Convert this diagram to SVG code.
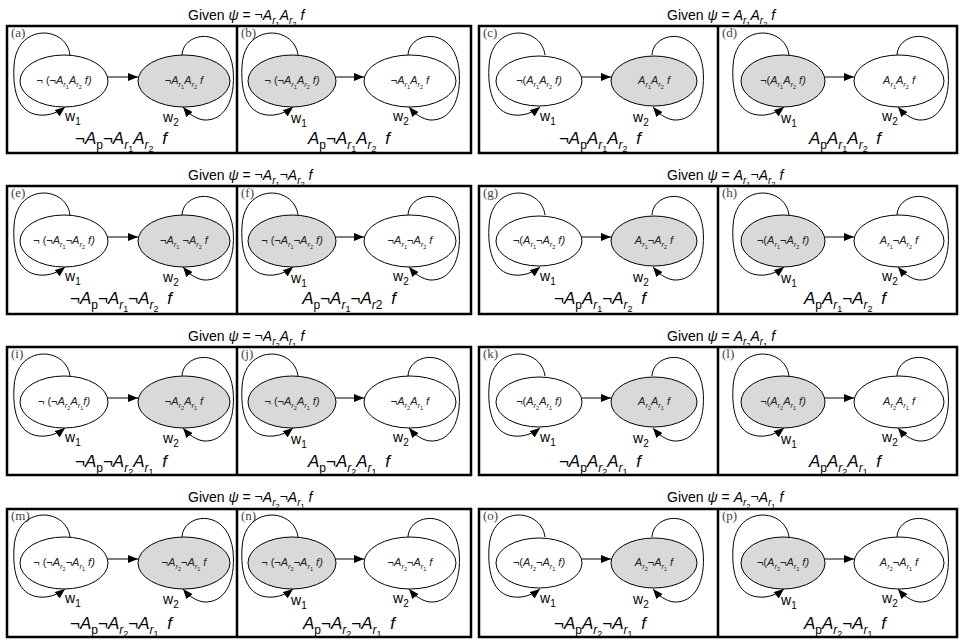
<svg xmlns="http://www.w3.org/2000/svg" width="961" height="642" viewBox="0 0 961 642">
<style>
.bg{fill:#fff}
.box{fill:none;stroke:#000;stroke-width:2.5}
.wh{fill:#fff;stroke:#000;stroke-width:1}
.gr{fill:#d9d9d9;stroke:#000;stroke-width:1}
.lk{fill:none;stroke:#000;stroke-width:1;marker-end:url(#ah)}
.tt{font:14px "Liberation Sans",Arial,sans-serif;fill:#000}
.bl{font:17px "Liberation Sans",Arial,sans-serif;fill:#000;text-anchor:middle}
.el{font:11px "Liberation Sans",Arial,sans-serif;fill:#222;text-anchor:middle}
.w{font:14px "Liberation Sans",Arial,sans-serif;fill:#000}
.pl{font:13px "Liberation Serif","DejaVu Serif",serif;fill:#444}
.i{font-style:italic}
.tt .s1{font-size:10px}.tt .s2{font-size:7.5px}
.bl .s1{font-size:12px}.bl .s2{font-size:9px}
.el .s1{font-size:7.5px}.el .s2{font-size:5.5px}
.w .s1{font-size:10px}
</style>
<defs>
<marker id="ah" viewBox="0 0 10 8" refX="10" refY="4" markerWidth="10" markerHeight="8" markerUnits="userSpaceOnUse" orient="auto"><path d="M0,0 L10,4 L0,8 z" fill="#000"/></marker>
</defs>
<rect class="bg" width="961" height="642"/>

<!-- titles -->
<g id="titles">
<text class="tt" x="188" y="20">Given <tspan class="i">ψ</tspan> = ¬<tspan class="i">A</tspan><tspan class="i s1" dy="4">r</tspan><tspan class="s2" dy="2.5">1</tspan><tspan class="i" dy="-6.5">A</tspan><tspan class="i s1" dy="4">r</tspan><tspan class="s2" dy="2.5">2</tspan><tspan class="i" dy="-6.5"> f</tspan></text>
<text class="tt" x="667" y="20">Given <tspan class="i">ψ</tspan> = <tspan class="i">A</tspan><tspan class="i s1" dy="4">r</tspan><tspan class="s2" dy="2.5">1</tspan><tspan class="i" dy="-6.5">A</tspan><tspan class="i s1" dy="4">r</tspan><tspan class="s2" dy="2.5">2</tspan><tspan class="i" dy="-6.5"> f</tspan></text>
<text class="tt" x="188" y="180">Given <tspan class="i">ψ</tspan> = ¬<tspan class="i">A</tspan><tspan class="i s1" dy="4">r</tspan><tspan class="s2" dy="2.5">1</tspan><tspan dy="-6.5">¬</tspan><tspan class="i">A</tspan><tspan class="i s1" dy="4">r</tspan><tspan class="s2" dy="2.5">2</tspan><tspan class="i" dy="-6.5"> f</tspan></text>
<text class="tt" x="667" y="180">Given <tspan class="i">ψ</tspan> = <tspan class="i">A</tspan><tspan class="i s1" dy="4">r</tspan><tspan class="s2" dy="2.5">1</tspan><tspan dy="-6.5">¬</tspan><tspan class="i">A</tspan><tspan class="i s1" dy="4">r</tspan><tspan class="s2" dy="2.5">2</tspan><tspan class="i" dy="-6.5"> f</tspan></text>
<text class="tt" x="188" y="341">Given <tspan class="i">ψ</tspan> = ¬<tspan class="i">A</tspan><tspan class="i s1" dy="4">r</tspan><tspan class="s2" dy="2.5">2</tspan><tspan class="i" dy="-6.5">A</tspan><tspan class="i s1" dy="4">r</tspan><tspan class="s2" dy="2.5">1</tspan><tspan class="i" dy="-6.5"> f</tspan></text>
<text class="tt" x="667" y="341">Given <tspan class="i">ψ</tspan> = <tspan class="i">A</tspan><tspan class="i s1" dy="4">r</tspan><tspan class="s2" dy="2.5">2</tspan><tspan class="i" dy="-6.5">A</tspan><tspan class="i s1" dy="4">r</tspan><tspan class="s2" dy="2.5">1</tspan><tspan class="i" dy="-6.5"> f</tspan></text>
<text class="tt" x="188" y="502">Given <tspan class="i">ψ</tspan> = ¬<tspan class="i">A</tspan><tspan class="i s1" dy="4">r</tspan><tspan class="s2" dy="2.5">2</tspan><tspan dy="-6.5">¬</tspan><tspan class="i">A</tspan><tspan class="i s1" dy="4">r</tspan><tspan class="s2" dy="2.5">1</tspan><tspan class="i" dy="-6.5"> f</tspan></text>
<text class="tt" x="667" y="502">Given <tspan class="i">ψ</tspan> = <tspan class="i">A</tspan><tspan class="i s1" dy="4">r</tspan><tspan class="s2" dy="2.5">2</tspan><tspan dy="-6.5">¬</tspan><tspan class="i">A</tspan><tspan class="i s1" dy="4">r</tspan><tspan class="s2" dy="2.5">1</tspan><tspan class="i" dy="-6.5"> f</tspan></text>
</g>

<!-- frames: one box per title, split into two panels -->
<g id="frames">
<rect class="box" x="7" y="26" width="464" height="127"/><line class="box" x1="237" y1="26" x2="237" y2="153"/>
<rect class="box" x="479" y="26" width="478" height="127"/><line class="box" x1="718" y1="26" x2="718" y2="153"/>
<rect class="box" x="7" y="186" width="464" height="128"/><line class="box" x1="237" y1="186" x2="237" y2="314"/>
<rect class="box" x="479" y="186" width="478" height="128"/><line class="box" x1="718" y1="186" x2="718" y2="314"/>
<rect class="box" x="7" y="347" width="464" height="128"/><line class="box" x1="237" y1="347" x2="237" y2="475"/>
<rect class="box" x="479" y="347" width="478" height="128"/><line class="box" x1="718" y1="347" x2="718" y2="475"/>
<rect class="box" x="7" y="509" width="464" height="128"/><line class="box" x1="237" y1="509" x2="237" y2="637"/>
<rect class="box" x="479" y="509" width="478" height="128"/><line class="box" x1="718" y1="509" x2="718" y2="637"/>
</g>

<!-- panel letters -->
<g id="panel-letters" class="pl">
<text x="11" y="37">(a)</text><text x="241" y="37">(b)</text><text x="483" y="37">(c)</text><text x="722" y="37">(d)</text>
<text x="11" y="197">(e)</text><text x="241" y="197">(f)</text><text x="483" y="197">(g)</text><text x="722" y="197">(h)</text>
<text x="11" y="358">(i)</text><text x="241" y="358">(j)</text><text x="483" y="358">(k)</text><text x="722" y="358">(l)</text>
<text x="11" y="520">(m)</text><text x="241" y="520">(n)</text><text x="483" y="520">(o)</text><text x="722" y="520">(p)</text>
</g>

<!-- connectors: transition edge plus two self-loops per panel -->
<g id="connectors">
<g id="links-a"><path class="lk" d="M108,77H138"/><path class="lk" transform="translate(64,81)" d="M6,-26 C2,-56 -48,-58 -50,-15 C-52,20 -40,36 -18,34 C-10,33 -4,30 1,26"/><path class="lk" transform="translate(184,81)" d="M-2,-26 C-1,-50 44,-56 49,-12 C52,20 40,40 20,39 C12,38 5,33 -1,26"/></g>
<g id="links-b"><path class="lk" d="M336,77H364"/><path class="lk" transform="translate(292,81)" d="M6,-26 C2,-56 -48,-58 -50,-15 C-52,20 -40,36 -18,34 C-10,33 -4,30 1,26"/><path class="lk" transform="translate(410,81)" d="M-2,-26 C-1,-50 44,-56 49,-12 C52,20 40,40 20,39 C12,38 5,33 -1,26"/></g>
<g id="links-c"><path class="lk" d="M582,77H611"/><path class="lk" transform="translate(539,81)" d="M6,-26 C2,-56 -48,-58 -50,-15 C-52,20 -40,36 -18,34 C-10,33 -4,30 1,26"/><path class="lk" transform="translate(654,81)" d="M-2,-26 C-1,-50 44,-56 49,-12 C52,20 40,40 20,39 C12,38 5,33 -1,26"/></g>
<g id="links-d"><path class="lk" d="M825,77H854"/><path class="lk" transform="translate(783,81)" d="M6,-26 C2,-56 -48,-58 -50,-15 C-52,20 -40,36 -18,34 C-10,33 -4,30 1,26"/><path class="lk" transform="translate(899,81)" d="M-2,-26 C-1,-50 44,-56 49,-12 C52,20 40,40 20,39 C12,38 5,33 -1,26"/></g>

<g id="links-e"><path class="lk" d="M108,237H138"/><path class="lk" transform="translate(64,241)" d="M6,-26 C2,-56 -48,-58 -50,-15 C-52,20 -40,36 -18,34 C-10,33 -4,30 1,26"/><path class="lk" transform="translate(184,241)" d="M-2,-26 C-1,-50 44,-56 49,-12 C52,20 40,40 20,39 C12,38 5,33 -1,26"/></g>
<g id="links-f"><path class="lk" d="M336,237H364"/><path class="lk" transform="translate(292,241)" d="M6,-26 C2,-56 -48,-58 -50,-15 C-52,20 -40,36 -18,34 C-10,33 -4,30 1,26"/><path class="lk" transform="translate(410,241)" d="M-2,-26 C-1,-50 44,-56 49,-12 C52,20 40,40 20,39 C12,38 5,33 -1,26"/></g>
<g id="links-g"><path class="lk" d="M582,237H611"/><path class="lk" transform="translate(539,241)" d="M6,-26 C2,-56 -48,-58 -50,-15 C-52,20 -40,36 -18,34 C-10,33 -4,30 1,26"/><path class="lk" transform="translate(654,241)" d="M-2,-26 C-1,-50 44,-56 49,-12 C52,20 40,40 20,39 C12,38 5,33 -1,26"/></g>
<g id="links-h"><path class="lk" d="M825,237H854"/><path class="lk" transform="translate(783,241)" d="M6,-26 C2,-56 -48,-58 -50,-15 C-52,20 -40,36 -18,34 C-10,33 -4,30 1,26"/><path class="lk" transform="translate(899,241)" d="M-2,-26 C-1,-50 44,-56 49,-12 C52,20 40,40 20,39 C12,38 5,33 -1,26"/></g>

<g id="links-i"><path class="lk" d="M108,398H138"/><path class="lk" transform="translate(64,402)" d="M6,-26 C2,-56 -48,-58 -50,-15 C-52,20 -40,36 -18,34 C-10,33 -4,30 1,26"/><path class="lk" transform="translate(184,402)" d="M-2,-26 C-1,-50 44,-56 49,-12 C52,20 40,40 20,39 C12,38 5,33 -1,26"/></g>
<g id="links-j"><path class="lk" d="M336,398H364"/><path class="lk" transform="translate(292,402)" d="M6,-26 C2,-56 -48,-58 -50,-15 C-52,20 -40,36 -18,34 C-10,33 -4,30 1,26"/><path class="lk" transform="translate(410,402)" d="M-2,-26 C-1,-50 44,-56 49,-12 C52,20 40,40 20,39 C12,38 5,33 -1,26"/></g>
<g id="links-k"><path class="lk" d="M582,398H611"/><path class="lk" transform="translate(539,402)" d="M6,-26 C2,-56 -48,-58 -50,-15 C-52,20 -40,36 -18,34 C-10,33 -4,30 1,26"/><path class="lk" transform="translate(654,402)" d="M-2,-26 C-1,-50 44,-56 49,-12 C52,20 40,40 20,39 C12,38 5,33 -1,26"/></g>
<g id="links-l"><path class="lk" d="M825,398H854"/><path class="lk" transform="translate(783,402)" d="M6,-26 C2,-56 -48,-58 -50,-15 C-52,20 -40,36 -18,34 C-10,33 -4,30 1,26"/><path class="lk" transform="translate(899,402)" d="M-2,-26 C-1,-50 44,-56 49,-12 C52,20 40,40 20,39 C12,38 5,33 -1,26"/></g>

<g id="links-m"><path class="lk" d="M108,559H138"/><path class="lk" transform="translate(64,563)" d="M6,-26 C2,-56 -48,-58 -50,-15 C-52,20 -40,36 -18,34 C-10,33 -4,30 1,26"/><path class="lk" transform="translate(184,563)" d="M-2,-26 C-1,-50 44,-56 49,-12 C52,20 40,40 20,39 C12,38 5,33 -1,26"/></g>
<g id="links-n"><path class="lk" d="M336,559H364"/><path class="lk" transform="translate(292,563)" d="M6,-26 C2,-56 -48,-58 -50,-15 C-52,20 -40,36 -18,34 C-10,33 -4,30 1,26"/><path class="lk" transform="translate(410,563)" d="M-2,-26 C-1,-50 44,-56 49,-12 C52,20 40,40 20,39 C12,38 5,33 -1,26"/></g>
<g id="links-o"><path class="lk" d="M582,559H611"/><path class="lk" transform="translate(539,563)" d="M6,-26 C2,-56 -48,-58 -50,-15 C-52,20 -40,36 -18,34 C-10,33 -4,30 1,26"/><path class="lk" transform="translate(654,563)" d="M-2,-26 C-1,-50 44,-56 49,-12 C52,20 40,40 20,39 C12,38 5,33 -1,26"/></g>
<g id="links-p"><path class="lk" d="M825,559H854"/><path class="lk" transform="translate(783,563)" d="M6,-26 C2,-56 -48,-58 -50,-15 C-52,20 -40,36 -18,34 C-10,33 -4,30 1,26"/><path class="lk" transform="translate(899,563)" d="M-2,-26 C-1,-50 44,-56 49,-12 C52,20 40,40 20,39 C12,38 5,33 -1,26"/></g>
</g>

<!-- loop labels -->
<g id="loop-labels" class="w">
<text x="65" y="121">w<tspan class="s1" dy="4">1</tspan></text><text x="163" y="122">w<tspan class="s1" dy="4">2</tspan></text>
<text x="291" y="123">w<tspan class="s1" dy="4">1</tspan></text><text x="393" y="121">w<tspan class="s1" dy="4">2</tspan></text>
<text x="540" y="121">w<tspan class="s1" dy="4">1</tspan></text><text x="633" y="122">w<tspan class="s1" dy="4">2</tspan></text>
<text x="781" y="123">w<tspan class="s1" dy="4">1</tspan></text><text x="882" y="121">w<tspan class="s1" dy="4">2</tspan></text>

<text x="65" y="281">w<tspan class="s1" dy="4">1</tspan></text><text x="163" y="282">w<tspan class="s1" dy="4">2</tspan></text>
<text x="291" y="283">w<tspan class="s1" dy="4">1</tspan></text><text x="393" y="281">w<tspan class="s1" dy="4">2</tspan></text>
<text x="540" y="281">w<tspan class="s1" dy="4">1</tspan></text><text x="633" y="282">w<tspan class="s1" dy="4">2</tspan></text>
<text x="781" y="283">w<tspan class="s1" dy="4">1</tspan></text><text x="882" y="281">w<tspan class="s1" dy="4">2</tspan></text>

<text x="65" y="442">w<tspan class="s1" dy="4">1</tspan></text><text x="163" y="443">w<tspan class="s1" dy="4">2</tspan></text>
<text x="291" y="444">w<tspan class="s1" dy="4">1</tspan></text><text x="393" y="442">w<tspan class="s1" dy="4">2</tspan></text>
<text x="540" y="442">w<tspan class="s1" dy="4">1</tspan></text><text x="633" y="443">w<tspan class="s1" dy="4">2</tspan></text>
<text x="781" y="444">w<tspan class="s1" dy="4">1</tspan></text><text x="882" y="442">w<tspan class="s1" dy="4">2</tspan></text>

<text x="65" y="603">w<tspan class="s1" dy="4">1</tspan></text><text x="163" y="604">w<tspan class="s1" dy="4">2</tspan></text>
<text x="291" y="605">w<tspan class="s1" dy="4">1</tspan></text><text x="393" y="603">w<tspan class="s1" dy="4">2</tspan></text>
<text x="540" y="603">w<tspan class="s1" dy="4">1</tspan></text><text x="633" y="604">w<tspan class="s1" dy="4">2</tspan></text>
<text x="781" y="605">w<tspan class="s1" dy="4">1</tspan></text><text x="882" y="603">w<tspan class="s1" dy="4">2</tspan></text>
</g>

<!-- nodes: row 1 -->
<g id="a-n1"><ellipse class="wh" cx="64" cy="81" rx="44" ry="26"/><text class="el" x="64" y="84">¬ (¬<tspan class="i">A</tspan><tspan class="i s1" dy="3">r</tspan><tspan class="s2" dy="2">1</tspan><tspan class="i" dy="-5">A</tspan><tspan class="i s1" dy="3">r</tspan><tspan class="s2" dy="2">2</tspan><tspan class="i" dy="-5"> f)</tspan></text></g>
<g id="a-n2"><ellipse class="gr" cx="184" cy="81" rx="46" ry="26"/><text class="el" x="184" y="84">¬<tspan class="i">A</tspan><tspan class="i s1" dy="3">r</tspan><tspan class="s2" dy="2">1</tspan><tspan class="i" dy="-5">A</tspan><tspan class="i s1" dy="3">r</tspan><tspan class="s2" dy="2">2</tspan><tspan class="i" dy="-5"> f</tspan></text></g>
<g id="b-n1"><ellipse class="gr" cx="292" cy="81" rx="44" ry="26"/><text class="el" x="292" y="84">¬ (¬<tspan class="i">A</tspan><tspan class="i s1" dy="3">r</tspan><tspan class="s2" dy="2">1</tspan><tspan class="i" dy="-5">A</tspan><tspan class="i s1" dy="3">r</tspan><tspan class="s2" dy="2">2</tspan><tspan class="i" dy="-5"> f)</tspan></text></g>
<g id="b-n2"><ellipse class="wh" cx="410" cy="81" rx="46" ry="26"/><text class="el" x="410" y="84">¬<tspan class="i">A</tspan><tspan class="i s1" dy="3">r</tspan><tspan class="s2" dy="2">1</tspan><tspan class="i" dy="-5">A</tspan><tspan class="i s1" dy="3">r</tspan><tspan class="s2" dy="2">2</tspan><tspan class="i" dy="-5"> f</tspan></text></g>
<g id="c-n1"><ellipse class="wh" cx="539" cy="81" rx="43" ry="25"/><text class="el" x="539" y="84">¬(<tspan class="i">A</tspan><tspan class="i s1" dy="3">r</tspan><tspan class="s2" dy="2">1</tspan><tspan class="i" dy="-5">A</tspan><tspan class="i s1" dy="3">r</tspan><tspan class="s2" dy="2">2</tspan><tspan class="i" dy="-5"> f)</tspan></text></g>
<g id="c-n2"><ellipse class="gr" cx="654" cy="81" rx="43" ry="25"/><text class="el" x="654" y="84"><tspan class="i">A</tspan><tspan class="i s1" dy="3">r</tspan><tspan class="s2" dy="2">1</tspan><tspan class="i" dy="-5">A</tspan><tspan class="i s1" dy="3">r</tspan><tspan class="s2" dy="2">2</tspan><tspan class="i" dy="-5"> f</tspan></text></g>
<g id="d-n1"><ellipse class="gr" cx="783" cy="81" rx="42" ry="26"/><text class="el" x="783" y="84">¬(<tspan class="i">A</tspan><tspan class="i s1" dy="3">r</tspan><tspan class="s2" dy="2">1</tspan><tspan class="i" dy="-5">A</tspan><tspan class="i s1" dy="3">r</tspan><tspan class="s2" dy="2">2</tspan><tspan class="i" dy="-5"> f)</tspan></text></g>
<g id="d-n2"><ellipse class="wh" cx="899" cy="81" rx="45" ry="26"/><text class="el" x="899" y="84"><tspan class="i">A</tspan><tspan class="i s1" dy="3">r</tspan><tspan class="s2" dy="2">1</tspan><tspan class="i" dy="-5">A</tspan><tspan class="i s1" dy="3">r</tspan><tspan class="s2" dy="2">2</tspan><tspan class="i" dy="-5"> f</tspan></text></g>

<!-- nodes: row 2 -->
<g id="e-n1"><ellipse class="wh" cx="64" cy="241" rx="44" ry="26"/><text class="el" x="64" y="244">¬ (¬<tspan class="i">A</tspan><tspan class="i s1" dy="3">r</tspan><tspan class="s2" dy="2">1</tspan><tspan dy="-5">¬</tspan><tspan class="i">A</tspan><tspan class="i s1" dy="3">r</tspan><tspan class="s2" dy="2">2</tspan><tspan class="i" dy="-5"> f)</tspan></text></g>
<g id="e-n2"><ellipse class="gr" cx="184" cy="241" rx="46" ry="26"/><text class="el" x="184" y="244">¬<tspan class="i">A</tspan><tspan class="i s1" dy="3">r</tspan><tspan class="s2" dy="2">1</tspan><tspan dy="-5"> ¬</tspan><tspan class="i">A</tspan><tspan class="i s1" dy="3">r</tspan><tspan class="s2" dy="2">2</tspan><tspan class="i" dy="-5"> f</tspan></text></g>
<g id="f-n1"><ellipse class="gr" cx="292" cy="241" rx="44" ry="26"/><text class="el" x="292" y="244">¬ (¬<tspan class="i">A</tspan><tspan class="i s1" dy="3">r</tspan><tspan class="s2" dy="2">1</tspan><tspan dy="-5">¬</tspan><tspan class="i">A</tspan><tspan class="i s1" dy="3">r</tspan><tspan class="s2" dy="2">2</tspan><tspan class="i" dy="-5"> f)</tspan></text></g>
<g id="f-n2"><ellipse class="wh" cx="410" cy="241" rx="46" ry="26"/><text class="el" x="410" y="244">¬<tspan class="i">A</tspan><tspan class="i s1" dy="3">r</tspan><tspan class="s2" dy="2">1</tspan><tspan dy="-5">¬</tspan><tspan class="i">A</tspan><tspan class="i s1" dy="3">r</tspan><tspan class="s2" dy="2">2</tspan><tspan class="i" dy="-5"> f</tspan></text></g>
<g id="g-n1"><ellipse class="wh" cx="539" cy="241" rx="43" ry="25"/><text class="el" x="539" y="244">¬(<tspan class="i">A</tspan><tspan class="i s1" dy="3">r</tspan><tspan class="s2" dy="2">1</tspan><tspan dy="-5">¬</tspan><tspan class="i">A</tspan><tspan class="i s1" dy="3">r</tspan><tspan class="s2" dy="2">2</tspan><tspan class="i" dy="-5"> f)</tspan></text></g>
<g id="g-n2"><ellipse class="gr" cx="654" cy="241" rx="43" ry="25"/><text class="el" x="654" y="244"><tspan class="i">A</tspan><tspan class="i s1" dy="3">r</tspan><tspan class="s2" dy="2">1</tspan><tspan dy="-5">¬</tspan><tspan class="i">A</tspan><tspan class="i s1" dy="3">r</tspan><tspan class="s2" dy="2">2</tspan><tspan class="i" dy="-5"> f</tspan></text></g>
<g id="h-n1"><ellipse class="gr" cx="783" cy="241" rx="42" ry="26"/><text class="el" x="783" y="244">¬(<tspan class="i">A</tspan><tspan class="i s1" dy="3">r</tspan><tspan class="s2" dy="2">1</tspan><tspan dy="-5">¬</tspan><tspan class="i">A</tspan><tspan class="i s1" dy="3">r</tspan><tspan class="s2" dy="2">2</tspan><tspan class="i" dy="-5"> f)</tspan></text></g>
<g id="h-n2"><ellipse class="wh" cx="899" cy="241" rx="45" ry="26"/><text class="el" x="899" y="244"><tspan class="i">A</tspan><tspan class="i s1" dy="3">r</tspan><tspan class="s2" dy="2">1</tspan><tspan dy="-5">¬</tspan><tspan class="i">A</tspan><tspan class="i s1" dy="3">r</tspan><tspan class="s2" dy="2">2</tspan><tspan class="i" dy="-5"> f</tspan></text></g>

<!-- nodes: row 3 -->
<g id="i-n1"><ellipse class="wh" cx="64" cy="402" rx="44" ry="26"/><text class="el" x="64" y="405">¬ (¬<tspan class="i">A</tspan><tspan class="i s1" dy="3">r</tspan><tspan class="s2" dy="2">2</tspan><tspan class="i" dy="-5">A</tspan><tspan class="i s1" dy="3">r</tspan><tspan class="s2" dy="2">1</tspan><tspan class="i" dy="-5">f)</tspan></text></g>
<g id="i-n2"><ellipse class="gr" cx="184" cy="402" rx="46" ry="26"/><text class="el" x="184" y="405">¬<tspan class="i">A</tspan><tspan class="i s1" dy="3">r</tspan><tspan class="s2" dy="2">2</tspan><tspan class="i" dy="-5">A</tspan><tspan class="i s1" dy="3">r</tspan><tspan class="s2" dy="2">1</tspan><tspan class="i" dy="-5"> f</tspan></text></g>
<g id="j-n1"><ellipse class="gr" cx="292" cy="402" rx="44" ry="26"/><text class="el" x="292" y="405">¬ (¬<tspan class="i">A</tspan><tspan class="i s1" dy="3">r</tspan><tspan class="s2" dy="2">2</tspan><tspan class="i" dy="-5">A</tspan><tspan class="i s1" dy="3">r</tspan><tspan class="s2" dy="2">1</tspan><tspan class="i" dy="-5"> f)</tspan></text></g>
<g id="j-n2"><ellipse class="wh" cx="410" cy="402" rx="46" ry="26"/><text class="el" x="410" y="405">¬<tspan class="i">A</tspan><tspan class="i s1" dy="3">r</tspan><tspan class="s2" dy="2">2</tspan><tspan class="i" dy="-5">A</tspan><tspan class="i s1" dy="3">r</tspan><tspan class="s2" dy="2">1</tspan><tspan class="i" dy="-5"> f</tspan></text></g>
<g id="k-n1"><ellipse class="wh" cx="539" cy="402" rx="43" ry="25"/><text class="el" x="539" y="405">¬(<tspan class="i">A</tspan><tspan class="i s1" dy="3">r</tspan><tspan class="s2" dy="2">2</tspan><tspan class="i" dy="-5">A</tspan><tspan class="i s1" dy="3">r</tspan><tspan class="s2" dy="2">1</tspan><tspan class="i" dy="-5"> f)</tspan></text></g>
<g id="k-n2"><ellipse class="gr" cx="654" cy="402" rx="43" ry="25"/><text class="el" x="654" y="405"><tspan class="i">A</tspan><tspan class="i s1" dy="3">r</tspan><tspan class="s2" dy="2">2</tspan><tspan class="i" dy="-5">A</tspan><tspan class="i s1" dy="3">r</tspan><tspan class="s2" dy="2">1</tspan><tspan class="i" dy="-5"> f</tspan></text></g>
<g id="l-n1"><ellipse class="gr" cx="783" cy="402" rx="42" ry="26"/><text class="el" x="783" y="405">¬(<tspan class="i">A</tspan><tspan class="i s1" dy="3">r</tspan><tspan class="s2" dy="2">2</tspan><tspan class="i" dy="-5">A</tspan><tspan class="i s1" dy="3">r</tspan><tspan class="s2" dy="2">1</tspan><tspan class="i" dy="-5"> f)</tspan></text></g>
<g id="l-n2"><ellipse class="wh" cx="899" cy="402" rx="45" ry="26"/><text class="el" x="899" y="405"><tspan class="i">A</tspan><tspan class="i s1" dy="3">r</tspan><tspan class="s2" dy="2">2</tspan><tspan class="i" dy="-5">A</tspan><tspan class="i s1" dy="3">r</tspan><tspan class="s2" dy="2">1</tspan><tspan class="i" dy="-5"> f</tspan></text></g>

<!-- nodes: row 4 -->
<g id="m-n1"><ellipse class="wh" cx="64" cy="563" rx="44" ry="26"/><text class="el" x="64" y="566">¬ (¬<tspan class="i">A</tspan><tspan class="i s1" dy="3">r</tspan><tspan class="s2" dy="2">2</tspan><tspan dy="-5">¬</tspan><tspan class="i">A</tspan><tspan class="i s1" dy="3">r</tspan><tspan class="s2" dy="2">1</tspan><tspan class="i" dy="-5"> f)</tspan></text></g>
<g id="m-n2"><ellipse class="gr" cx="184" cy="563" rx="46" ry="26"/><text class="el" x="184" y="566">¬<tspan class="i">A</tspan><tspan class="i s1" dy="3">r</tspan><tspan class="s2" dy="2">2</tspan><tspan dy="-5">¬</tspan><tspan class="i">A</tspan><tspan class="i s1" dy="3">r</tspan><tspan class="s2" dy="2">1</tspan><tspan class="i" dy="-5"> f</tspan></text></g>
<g id="n-n1"><ellipse class="gr" cx="292" cy="563" rx="44" ry="26"/><text class="el" x="292" y="566">¬ (¬<tspan class="i">A</tspan><tspan class="i s1" dy="3">r</tspan><tspan class="s2" dy="2">2</tspan><tspan dy="-5">¬</tspan><tspan class="i">A</tspan><tspan class="i s1" dy="3">r</tspan><tspan class="s2" dy="2">1</tspan><tspan class="i" dy="-5"> f)</tspan></text></g>
<g id="n-n2"><ellipse class="wh" cx="410" cy="563" rx="46" ry="26"/><text class="el" x="410" y="566">¬<tspan class="i">A</tspan><tspan class="i s1" dy="3">r</tspan><tspan class="s2" dy="2">2</tspan><tspan dy="-5">¬</tspan><tspan class="i">A</tspan><tspan class="i s1" dy="3">r</tspan><tspan class="s2" dy="2">1</tspan><tspan class="i" dy="-5"> f</tspan></text></g>
<g id="o-n1"><ellipse class="wh" cx="539" cy="563" rx="43" ry="25"/><text class="el" x="539" y="566">¬(<tspan class="i">A</tspan><tspan class="i s1" dy="3">r</tspan><tspan class="s2" dy="2">2</tspan><tspan dy="-5">¬</tspan><tspan class="i">A</tspan><tspan class="i s1" dy="3">r</tspan><tspan class="s2" dy="2">1</tspan><tspan class="i" dy="-5"> f)</tspan></text></g>
<g id="o-n2"><ellipse class="gr" cx="654" cy="563" rx="43" ry="25"/><text class="el" x="654" y="566"><tspan class="i">A</tspan><tspan class="i s1" dy="3">r</tspan><tspan class="s2" dy="2">2</tspan><tspan dy="-5">¬</tspan><tspan class="i">A</tspan><tspan class="i s1" dy="3">r</tspan><tspan class="s2" dy="2">1</tspan><tspan class="i" dy="-5"> f</tspan></text></g>
<g id="p-n1"><ellipse class="gr" cx="783" cy="563" rx="42" ry="26"/><text class="el" x="783" y="566">¬(<tspan class="i">A</tspan><tspan class="i s1" dy="3">r</tspan><tspan class="s2" dy="2">2</tspan><tspan dy="-5">¬</tspan><tspan class="i">A</tspan><tspan class="i s1" dy="3">r</tspan><tspan class="s2" dy="2">1</tspan><tspan class="i" dy="-5"> f)</tspan></text></g>
<g id="p-n2"><ellipse class="wh" cx="899" cy="563" rx="45" ry="26"/><text class="el" x="899" y="566"><tspan class="i">A</tspan><tspan class="i s1" dy="3">r</tspan><tspan class="s2" dy="2">2</tspan><tspan dy="-5">¬</tspan><tspan class="i">A</tspan><tspan class="i s1" dy="3">r</tspan><tspan class="s2" dy="2">1</tspan><tspan class="i" dy="-5"> f</tspan></text></g>

<!-- panel formulas -->
<g id="formulas" class="bl">
<text x="121" y="144">¬<tspan class="i">A</tspan><tspan class="s1" dy="4.5">p</tspan><tspan dy="-4.5">¬</tspan><tspan class="i">A</tspan><tspan class="i s1" dy="4.5">r</tspan><tspan class="s2" dy="3">1</tspan><tspan class="i" dy="-7.5">A</tspan><tspan class="i s1" dy="4.5">r</tspan><tspan class="s2" dy="3">2</tspan><tspan class="i" dy="-7.5" dx="4"> f</tspan></text>
<text x="349" y="144"><tspan class="i">A</tspan><tspan class="s1" dy="4.5">p</tspan><tspan dy="-4.5">¬</tspan><tspan class="i">A</tspan><tspan class="i s1" dy="4.5">r</tspan><tspan class="s2" dy="3">1</tspan><tspan class="i" dy="-7.5">A</tspan><tspan class="i s1" dy="4.5">r</tspan><tspan class="s2" dy="3">2</tspan><tspan class="i" dy="-7.5" dx="4"> f</tspan></text>
<text x="600" y="144">¬<tspan class="i">A</tspan><tspan class="s1" dy="4.5">p</tspan><tspan class="i" dy="-4.5">A</tspan><tspan class="i s1" dy="4.5">r</tspan><tspan class="s2" dy="3">1</tspan><tspan class="i" dy="-7.5">A</tspan><tspan class="i s1" dy="4.5">r</tspan><tspan class="s2" dy="3">2</tspan><tspan class="i" dy="-7.5" dx="4"> f</tspan></text>
<text x="845" y="144"><tspan class="i">A</tspan><tspan class="s1" dy="4.5">p</tspan><tspan class="i" dy="-4.5">A</tspan><tspan class="i s1" dy="4.5">r</tspan><tspan class="s2" dy="3">1</tspan><tspan class="i" dy="-7.5">A</tspan><tspan class="i s1" dy="4.5">r</tspan><tspan class="s2" dy="3">2</tspan><tspan class="i" dy="-7.5" dx="4"> f</tspan></text>

<text x="121" y="304">¬<tspan class="i">A</tspan><tspan class="s1" dy="4.5">p</tspan><tspan dy="-4.5">¬</tspan><tspan class="i">A</tspan><tspan class="i s1" dy="4.5">r</tspan><tspan class="s2" dy="3">1</tspan><tspan dy="-7.5">¬</tspan><tspan class="i">A</tspan><tspan class="i s1" dy="4.5">r</tspan><tspan class="s2" dy="3">2</tspan><tspan class="i" dy="-7.5" dx="4"> f</tspan></text>
<text x="349" y="304"><tspan class="i">A</tspan><tspan class="s1" dy="4.5">p</tspan><tspan dy="-4.5">¬</tspan><tspan class="i">A</tspan><tspan class="i s1" dy="4.5">r</tspan><tspan class="s2" dy="3">1</tspan><tspan dy="-7.5">¬</tspan><tspan class="i">A</tspan><tspan class="i s1" dy="4.5">r</tspan><tspan class="s1">2</tspan><tspan class="i" dy="-4.5" dx="4"> f</tspan></text>
<text x="600" y="304">¬<tspan class="i">A</tspan><tspan class="s1" dy="4.5">p</tspan><tspan class="i" dy="-4.5">A</tspan><tspan class="i s1" dy="4.5">r</tspan><tspan class="s2" dy="3">1</tspan><tspan dy="-7.5">¬</tspan><tspan class="i">A</tspan><tspan class="i s1" dy="4.5">r</tspan><tspan class="s2" dy="3">2</tspan><tspan class="i" dy="-7.5" dx="4"> f</tspan></text>
<text x="845" y="304"><tspan class="i">A</tspan><tspan class="s1" dy="4.5">p</tspan><tspan class="i" dy="-4.5">A</tspan><tspan class="i s1" dy="4.5">r</tspan><tspan class="s2" dy="3">1</tspan><tspan dy="-7.5">¬</tspan><tspan class="i">A</tspan><tspan class="i s1" dy="4.5">r</tspan><tspan class="s2" dy="3">2</tspan><tspan class="i" dy="-7.5" dx="4"> f</tspan></text>

<text x="121" y="467">¬<tspan class="i">A</tspan><tspan class="s1" dy="4.5">p</tspan><tspan dy="-4.5">¬</tspan><tspan class="i">A</tspan><tspan class="i s1" dy="4.5">r</tspan><tspan class="s2" dy="3">2</tspan><tspan class="i" dy="-7.5">A</tspan><tspan class="i s1" dy="4.5">r</tspan><tspan class="s2" dy="3">1</tspan><tspan class="i" dy="-7.5" dx="4"> f</tspan></text>
<text x="349" y="467"><tspan class="i">A</tspan><tspan class="s1" dy="4.5">p</tspan><tspan dy="-4.5">¬</tspan><tspan class="i">A</tspan><tspan class="i s1" dy="4.5">r</tspan><tspan class="s2" dy="3">2</tspan><tspan class="i" dy="-7.5">A</tspan><tspan class="i s1" dy="4.5">r</tspan><tspan class="s2" dy="3">1</tspan><tspan class="i" dy="-7.5" dx="4"> f</tspan></text>
<text x="600" y="467">¬<tspan class="i">A</tspan><tspan class="s1" dy="4.5">p</tspan><tspan class="i" dy="-4.5">A</tspan><tspan class="i s1" dy="4.5">r</tspan><tspan class="s2" dy="3">2</tspan><tspan class="i" dy="-7.5">A</tspan><tspan class="i s1" dy="4.5">r</tspan><tspan class="s2" dy="3">1</tspan><tspan class="i" dy="-7.5" dx="4"> f</tspan></text>
<text x="845" y="467"><tspan class="i">A</tspan><tspan class="s1" dy="4.5">p</tspan><tspan class="i" dy="-4.5">A</tspan><tspan class="i s1" dy="4.5">r</tspan><tspan class="s2" dy="3">2</tspan><tspan class="i" dy="-7.5">A</tspan><tspan class="i s1" dy="4.5">r</tspan><tspan class="s2" dy="3">1</tspan><tspan class="i" dy="-7.5" dx="4"> f</tspan></text>

<text x="121" y="629">¬<tspan class="i">A</tspan><tspan class="s1" dy="4.5">p</tspan><tspan dy="-4.5">¬</tspan><tspan class="i">A</tspan><tspan class="i s1" dy="4.5">r</tspan><tspan class="s2" dy="3">2</tspan><tspan dy="-7.5">¬</tspan><tspan class="i">A</tspan><tspan class="i s1" dy="4.5">r</tspan><tspan class="s2" dy="3">1</tspan><tspan class="i" dy="-7.5" dx="4"> f</tspan></text>
<text x="349" y="629"><tspan class="i">A</tspan><tspan class="s1" dy="4.5">p</tspan><tspan dy="-4.5">¬</tspan><tspan class="i">A</tspan><tspan class="i s1" dy="4.5">r</tspan><tspan class="s2" dy="3">2</tspan><tspan dy="-7.5">¬</tspan><tspan class="i">A</tspan><tspan class="i s1" dy="4.5">r</tspan><tspan class="s2" dy="3">1</tspan><tspan class="i" dy="-7.5" dx="4"> f</tspan></text>
<text x="600" y="629">¬<tspan class="i">A</tspan><tspan class="s1" dy="4.5">p</tspan><tspan class="i" dy="-4.5">A</tspan><tspan class="i s1" dy="4.5">r</tspan><tspan class="s2" dy="3">2</tspan><tspan dy="-7.5">¬</tspan><tspan class="i">A</tspan><tspan class="i s1" dy="4.5">r</tspan><tspan class="s2" dy="3">1</tspan><tspan class="i" dy="-7.5" dx="4"> f</tspan></text>
<text x="845" y="629"><tspan class="i">A</tspan><tspan class="s1" dy="4.5">p</tspan><tspan class="i" dy="-4.5">A</tspan><tspan class="i s1" dy="4.5">r</tspan><tspan class="s2" dy="3">2</tspan><tspan dy="-7.5">¬</tspan><tspan class="i">A</tspan><tspan class="i s1" dy="4.5">r</tspan><tspan class="s2" dy="3">1</tspan><tspan class="i" dy="-7.5" dx="4"> f</tspan></text>
</g>
</svg>
